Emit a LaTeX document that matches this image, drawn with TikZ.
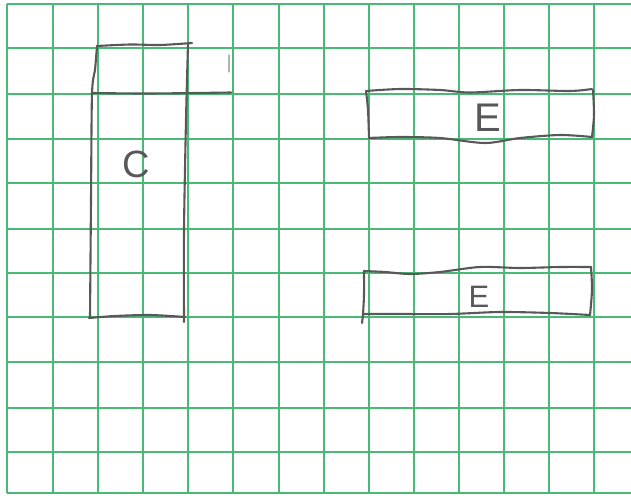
\documentclass[tikz,border=0pt]{standalone}
\usepackage{fontspec}
\setmainfont{Liberation Sans}
\begin{document}
\begin{tikzpicture}[x=1pt,y=-1pt,
  gridline/.style={draw=gridgreen,line width=1.6pt},
  gridthick/.style={draw=gridgreen,line width=2.4pt},
  pencil/.style={draw=pencilgrey,line width=2.1pt,line cap=round,line join=round},
  faint/.style={draw=pencilgrey!45,line width=1.1pt,line cap=round},
  letter/.style={text=pencilgrey,inner sep=0pt,font=\fontsize{38}{38}\selectfont}]
\definecolor{gridgreen}{RGB}{72,186,118}
\definecolor{pencilgrey}{RGB}{88,88,88}
\useasboundingbox (0,0) rectangle (631,495);
\fill[white] (0,0) rectangle (631,495);
% grid: vertical lines
\foreach \x in {53,98,143,188,233,279,324,369,414,459,504,549,594}
  \draw[gridline] (\x,4) -- (\x,493);
% grid: horizontal lines
\foreach \y in {48,94,183,229,273,317,452}
  \draw[gridline] (7,\y) -- (631,\y);
\foreach \y in {139,362,408}
  \draw[gridthick] (7,\y) -- (631,\y);
% borders
\draw[gridthick] (7,4) -- (631,4);
\draw[gridthick] (7,493) -- (631,493);
\draw[gridthick] (7,4) -- (7,493);
% rectangle C
\draw[pencil] plot[smooth] coordinates {(97,46) (130,44.5) (160,45) (192,43)};
\draw[pencil] plot[smooth] coordinates {(97,46) (95,70) (92,94) (91,200) (90,318)};
\draw[pencil] plot[smooth] coordinates {(89,318) (115,316) (150,315) (185,317)};
\draw[pencil] plot[smooth] coordinates {(188,44) (186,120) (184,230) (184,322)};
\draw[pencil] plot[smooth] coordinates {(92,93) (150,93.5) (231,92.5)};
\draw[faint] (229,55) -- (229,72);
\node[letter] (c) at (136,164) {C};
% upper rectangle E
\draw[pencil] plot[smooth] coordinates {(366,91) (400,89) (440,90) (470,92.5) (520,90) (570,91) (592,89)};
\draw[pencil] plot[smooth] coordinates {(593,90) (594,115) (592,137)};
\draw[pencil] plot[smooth] coordinates {(592,137) (560,135) (520,138) (485,143) (440,138) (400,137) (369,138)};
\draw[pencil] plot[smooth] coordinates {(366,91) (368,110) (369,138)};
\node[letter,font=\fontsize{40}{40}\selectfont] (e1) at (488,118) {E};
% lower rectangle E
\draw[pencil] plot[smooth] coordinates {(364,271) (385,272) (410,274) (440,272) (480,267) (520,268) (560,267) (591,267)};
\draw[pencil] plot[smooth] coordinates {(591,267) (592,290) (590,315)};
\draw[pencil] plot[smooth] coordinates {(590,315) (550,313) (500,312) (450,314) (400,314) (364,314)};
\draw[pencil] plot[smooth] coordinates {(364,271) (364,295) (363,314) (362,323)};
\node[letter,font=\fontsize{31}{31}\selectfont] (e2) at (479,297) {E};
\end{tikzpicture}
\end{document}
